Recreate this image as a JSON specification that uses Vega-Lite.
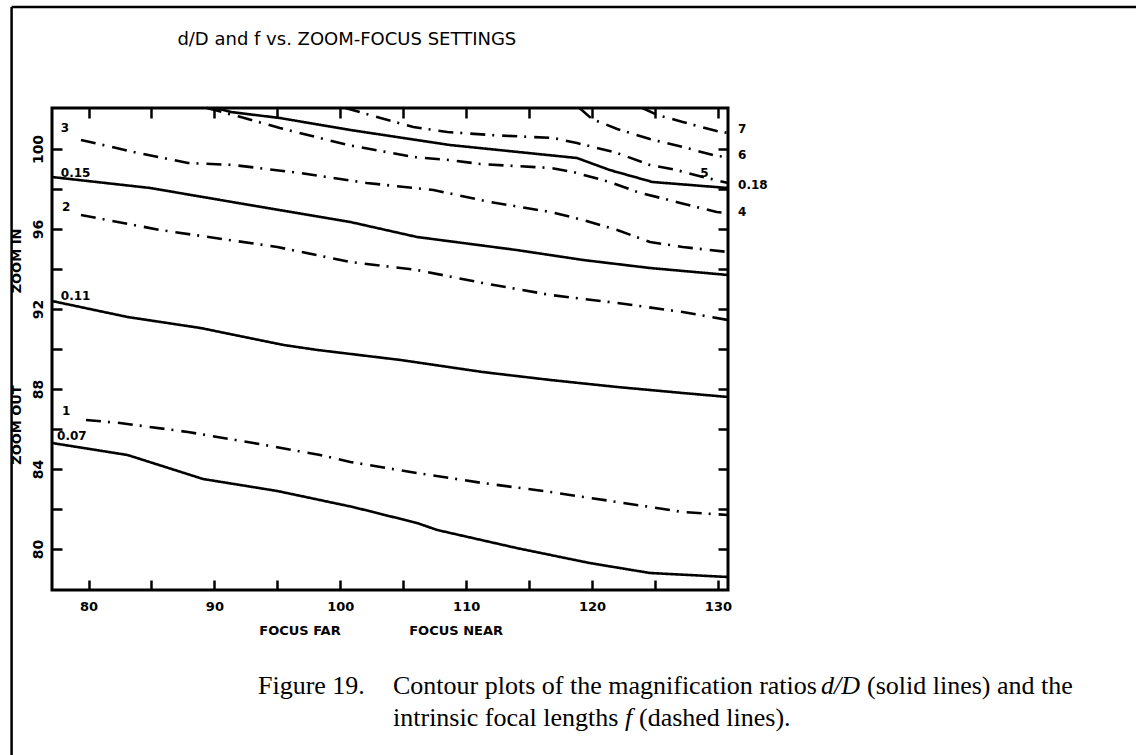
{
  "$schema": "https://vega.github.io/schema/vega-lite/v6.json",
  "width": 676,
  "height": 482,
  "autosize": {"type": "none"},
  "padding": {"left": 52, "top": 108, "right": 408, "bottom": 165},
  "background": "white",
  "config": {
    "view": {"stroke": "black", "strokeWidth": 3},
    "axis": {"grid": false, "domain": false, "title": null, "tickColor": "black", "tickWidth": 2.5, "labelColor": "black", "labelFont": "DejaVu Sans", "labelFontWeight": "bold", "labelFontSize": 13, "labelFlush": false, "labelOverlap": false}
  },
  "datasets": {
    "contours": [
      {"level": "0.07", "quantity": "d/D", "focus": 77.1, "zoom": 85.3},
      {"level": "0.07", "quantity": "d/D", "focus": 83.1, "zoom": 84.7},
      {"level": "0.07", "quantity": "d/D", "focus": 89.1, "zoom": 83.5},
      {"level": "0.07", "quantity": "d/D", "focus": 95.0, "zoom": 82.9},
      {"level": "0.07", "quantity": "d/D", "focus": 101.0, "zoom": 82.1},
      {"level": "0.07", "quantity": "d/D", "focus": 106.1, "zoom": 81.3},
      {"level": "0.07", "quantity": "d/D", "focus": 107.7, "zoom": 80.95},
      {"level": "0.07", "quantity": "d/D", "focus": 114.0, "zoom": 80.05},
      {"level": "0.07", "quantity": "d/D", "focus": 119.8, "zoom": 79.3},
      {"level": "0.07", "quantity": "d/D", "focus": 124.6, "zoom": 78.8},
      {"level": "0.07", "quantity": "d/D", "focus": 130.8, "zoom": 78.6},
      {"level": "1", "quantity": "f", "focus": 79.8, "zoom": 86.45},
      {"level": "1", "quantity": "f", "focus": 82.5, "zoom": 86.3},
      {"level": "1", "quantity": "f", "focus": 87.9, "zoom": 85.85},
      {"level": "1", "quantity": "f", "focus": 93.1, "zoom": 85.3},
      {"level": "1", "quantity": "f", "focus": 98.4, "zoom": 84.7},
      {"level": "1", "quantity": "f", "focus": 100.8, "zoom": 84.35},
      {"level": "1", "quantity": "f", "focus": 106.1, "zoom": 83.8},
      {"level": "1", "quantity": "f", "focus": 111.3, "zoom": 83.3},
      {"level": "1", "quantity": "f", "focus": 116.7, "zoom": 82.85},
      {"level": "1", "quantity": "f", "focus": 122.0, "zoom": 82.35},
      {"level": "1", "quantity": "f", "focus": 127.2, "zoom": 81.85},
      {"level": "1", "quantity": "f", "focus": 130.8, "zoom": 81.7},
      {"level": "0.11", "quantity": "d/D", "focus": 77.1, "zoom": 92.4},
      {"level": "0.11", "quantity": "d/D", "focus": 83.1, "zoom": 91.6},
      {"level": "0.11", "quantity": "d/D", "focus": 88.9, "zoom": 91.05},
      {"level": "0.11", "quantity": "d/D", "focus": 95.5, "zoom": 90.2},
      {"level": "0.11", "quantity": "d/D", "focus": 98.2, "zoom": 89.95},
      {"level": "0.11", "quantity": "d/D", "focus": 104.8, "zoom": 89.45},
      {"level": "0.11", "quantity": "d/D", "focus": 111.3, "zoom": 88.85},
      {"level": "0.11", "quantity": "d/D", "focus": 116.7, "zoom": 88.45},
      {"level": "0.11", "quantity": "d/D", "focus": 122.0, "zoom": 88.1},
      {"level": "0.11", "quantity": "d/D", "focus": 127.2, "zoom": 87.8},
      {"level": "0.11", "quantity": "d/D", "focus": 130.8, "zoom": 87.6},
      {"level": "2", "quantity": "f", "focus": 79.4, "zoom": 96.7},
      {"level": "2", "quantity": "f", "focus": 85.7, "zoom": 95.95},
      {"level": "2", "quantity": "f", "focus": 95.0, "zoom": 95.1},
      {"level": "2", "quantity": "f", "focus": 100.8, "zoom": 94.35},
      {"level": "2", "quantity": "f", "focus": 106.1, "zoom": 93.95},
      {"level": "2", "quantity": "f", "focus": 111.3, "zoom": 93.3},
      {"level": "2", "quantity": "f", "focus": 116.7, "zoom": 92.7},
      {"level": "2", "quantity": "f", "focus": 122.0, "zoom": 92.3},
      {"level": "2", "quantity": "f", "focus": 127.2, "zoom": 91.85},
      {"level": "2", "quantity": "f", "focus": 130.8, "zoom": 91.45},
      {"level": "0.15", "quantity": "d/D", "focus": 77.1, "zoom": 98.6},
      {"level": "0.15", "quantity": "d/D", "focus": 84.9, "zoom": 98.05},
      {"level": "0.15", "quantity": "d/D", "focus": 94.2, "zoom": 97.05},
      {"level": "0.15", "quantity": "d/D", "focus": 100.8, "zoom": 96.35},
      {"level": "0.15", "quantity": "d/D", "focus": 106.1, "zoom": 95.6},
      {"level": "0.15", "quantity": "d/D", "focus": 114.0, "zoom": 94.95},
      {"level": "0.15", "quantity": "d/D", "focus": 119.3, "zoom": 94.45},
      {"level": "0.15", "quantity": "d/D", "focus": 124.6, "zoom": 94.05},
      {"level": "0.15", "quantity": "d/D", "focus": 130.8, "zoom": 93.7},
      {"level": "3", "quantity": "f", "focus": 79.4, "zoom": 100.45},
      {"level": "3", "quantity": "f", "focus": 83.6, "zoom": 99.85},
      {"level": "3", "quantity": "f", "focus": 87.9, "zoom": 99.3},
      {"level": "3", "quantity": "f", "focus": 91.5, "zoom": 99.2},
      {"level": "3", "quantity": "f", "focus": 96.8, "zoom": 98.8},
      {"level": "3", "quantity": "f", "focus": 102.1, "zoom": 98.3},
      {"level": "3", "quantity": "f", "focus": 107.4, "zoom": 97.95},
      {"level": "3", "quantity": "f", "focus": 111.9, "zoom": 97.35},
      {"level": "3", "quantity": "f", "focus": 116.7, "zoom": 96.85},
      {"level": "3", "quantity": "f", "focus": 119.3, "zoom": 96.45},
      {"level": "3", "quantity": "f", "focus": 122.0, "zoom": 95.95},
      {"level": "3", "quantity": "f", "focus": 124.6, "zoom": 95.35},
      {"level": "3", "quantity": "f", "focus": 127.2, "zoom": 95.1},
      {"level": "3", "quantity": "f", "focus": 130.8, "zoom": 94.85},
      {"level": "0.18", "quantity": "d/D", "focus": 90.1, "zoom": 102.05},
      {"level": "0.18", "quantity": "d/D", "focus": 91.3, "zoom": 101.85},
      {"level": "0.18", "quantity": "d/D", "focus": 95.2, "zoom": 101.55},
      {"level": "0.18", "quantity": "d/D", "focus": 100.8, "zoom": 100.95},
      {"level": "0.18", "quantity": "d/D", "focus": 108.7, "zoom": 100.2},
      {"level": "0.18", "quantity": "d/D", "focus": 118.8, "zoom": 99.55},
      {"level": "0.18", "quantity": "d/D", "focus": 121.4, "zoom": 98.95},
      {"level": "0.18", "quantity": "d/D", "focus": 124.8, "zoom": 98.35},
      {"level": "0.18", "quantity": "d/D", "focus": 130.8, "zoom": 98.05},
      {"level": "4", "quantity": "f", "focus": 89.4, "zoom": 102.05},
      {"level": "4", "quantity": "f", "focus": 92.1, "zoom": 101.6},
      {"level": "4", "quantity": "f", "focus": 95.2, "zoom": 101.05},
      {"level": "4", "quantity": "f", "focus": 100.6, "zoom": 100.2},
      {"level": "4", "quantity": "f", "focus": 105.8, "zoom": 99.6},
      {"level": "4", "quantity": "f", "focus": 108.7, "zoom": 99.45},
      {"level": "4", "quantity": "f", "focus": 111.1, "zoom": 99.25},
      {"level": "4", "quantity": "f", "focus": 116.7, "zoom": 99.05},
      {"level": "4", "quantity": "f", "focus": 118.5, "zoom": 98.85},
      {"level": "4", "quantity": "f", "focus": 121.4, "zoom": 98.35},
      {"level": "4", "quantity": "f", "focus": 123.6, "zoom": 97.85},
      {"level": "4", "quantity": "f", "focus": 126.7, "zoom": 97.35},
      {"level": "4", "quantity": "f", "focus": 129.9, "zoom": 96.85},
      {"level": "4", "quantity": "f", "focus": 130.8, "zoom": 96.8},
      {"level": "5", "quantity": "f", "focus": 100.4, "zoom": 102.05},
      {"level": "5", "quantity": "f", "focus": 103.2, "zoom": 101.55},
      {"level": "5", "quantity": "f", "focus": 105.8, "zoom": 101.1},
      {"level": "5", "quantity": "f", "focus": 108.5, "zoom": 100.85},
      {"level": "5", "quantity": "f", "focus": 111.9, "zoom": 100.7},
      {"level": "5", "quantity": "f", "focus": 116.9, "zoom": 100.55},
      {"level": "5", "quantity": "f", "focus": 118.8, "zoom": 100.3},
      {"level": "5", "quantity": "f", "focus": 122.0, "zoom": 99.8},
      {"level": "5", "quantity": "f", "focus": 124.6, "zoom": 99.2},
      {"level": "5", "quantity": "f", "focus": 126.7, "zoom": 98.95},
      {"level": "5", "quantity": "f", "focus": 128.8, "zoom": 98.6},
      {"level": "5", "quantity": "f", "focus": 130.8, "zoom": 98.3},
      {"level": "6", "quantity": "f", "focus": 119.0, "zoom": 102.05},
      {"level": "6", "quantity": "f", "focus": 120.0, "zoom": 101.5},
      {"level": "6", "quantity": "f", "focus": 122.0, "zoom": 101.0},
      {"level": "6", "quantity": "f", "focus": 124.6, "zoom": 100.5},
      {"level": "6", "quantity": "f", "focus": 127.2, "zoom": 100.1},
      {"level": "6", "quantity": "f", "focus": 129.9, "zoom": 99.65},
      {"level": "6", "quantity": "f", "focus": 130.8, "zoom": 99.6},
      {"level": "7", "quantity": "f", "focus": 124.0, "zoom": 102.05},
      {"level": "7", "quantity": "f", "focus": 125.2, "zoom": 101.7},
      {"level": "7", "quantity": "f", "focus": 127.2, "zoom": 101.35},
      {"level": "7", "quantity": "f", "focus": 129.9, "zoom": 100.9},
      {"level": "7", "quantity": "f", "focus": 130.8, "zoom": 100.8}
    ],
    "contourLabels": [
      {"text": "3", "focus": 77.8, "zoom": 101.05},
      {"text": "0.15", "focus": 77.8, "zoom": 98.8},
      {"text": "2", "focus": 77.9, "zoom": 97.1},
      {"text": "0.11", "focus": 77.8, "zoom": 92.65},
      {"text": "1", "focus": 77.9, "zoom": 86.9},
      {"text": "0.07", "focus": 77.5, "zoom": 85.65},
      {"text": "5", "focus": 128.6, "zoom": 98.8},
      {"text": "7", "focus": 131.6, "zoom": 101.0},
      {"text": "6", "focus": 131.6, "zoom": 99.7},
      {"text": "0.18", "focus": 131.6, "zoom": 98.2},
      {"text": "4", "focus": 131.6, "zoom": 96.85}
    ]
  },
  "layer": [
    {
      "data": {"name": "contours"},
      "mark": {"type": "line", "color": "black", "strokeWidth": 2.6},
      "encoding": {
        "x": {"field": "focus", "type": "quantitative", "scale": {"domain": [77.1, 130.8], "nice": false, "zero": false},
          "axis": {"orient": "bottom", "values": [80, 85, 90, 95, 100, 105, 110, 115, 120, 125, 130], "labelExpr": "datum.value % 10 === 0 ? datum.label : ''", "tickSize": -10, "labelPadding": 20}},
        "y": {"field": "zoom", "type": "quantitative", "scale": {"domain": [77.95, 102.05], "nice": false, "zero": false},
          "axis": {"orient": "left", "values": [80, 82, 84, 86, 88, 90, 92, 94, 96, 98, 100], "labelExpr": "datum.value % 4 === 0 ? datum.label : ''", "labelAngle": 270, "labelAlign": "center", "labelBaseline": "bottom", "labelFontSize": 14, "tickSize": -10, "labelPadding": 17}},
        "detail": {"field": "level", "type": "nominal"},
        "strokeDash": {"field": "quantity", "type": "nominal", "scale": {"domain": ["d/D", "f"], "range": [[1, 0], [15, 7, 2, 8]]}, "legend": null}
      }
    },
    {
      "data": {"name": "contourLabels"},
      "mark": {"type": "text", "align": "left", "baseline": "middle", "font": "DejaVu Sans", "fontWeight": "bold", "fontSize": 12, "color": "black"},
      "encoding": {
        "x": {"field": "focus", "type": "quantitative", "scale": {"domain": [77.1, 130.8], "nice": false, "zero": false},
          "axis": {"orient": "top", "values": [80, 85, 90, 95, 100, 105, 110, 115, 120, 125, 130], "labels": false, "tickSize": -10}},
        "y": {"field": "zoom", "type": "quantitative", "scale": {"domain": [77.95, 102.05], "nice": false, "zero": false},
          "axis": {"orient": "right", "values": [80, 82, 84, 86, 88, 90, 92, 94, 96, 98, 100], "labels": false, "tickSize": -10}},
        "text": {"field": "text", "type": "nominal"}
      }
    },
    {
      "data": {"values": [{"text": "d/D and f vs. ZOOM-FOCUS SETTINGS", "focus": 87.06, "zoom": 105.45}]},
      "mark": {"type": "text", "align": "left", "baseline": "middle", "font": "DejaVu Sans", "fontSize": 18, "color": "black"},
      "encoding": {
        "x": {"field": "focus", "type": "quantitative", "scale": {"domain": [77.1, 130.8], "nice": false, "zero": false}, "axis": null},
        "y": {"field": "zoom", "type": "quantitative", "scale": {"domain": [77.95, 102.05], "nice": false, "zero": false}, "axis": null},
        "text": {"field": "text", "type": "nominal"}
      }
    },
    {
      "data": {"values": [{"text": "FOCUS FAR", "focus": 96.8, "zoom": 75.9}, {"text": "FOCUS NEAR", "focus": 109.2, "zoom": 75.9}]},
      "mark": {"type": "text", "align": "center", "baseline": "middle", "font": "DejaVu Sans", "fontWeight": "bold", "fontSize": 13, "color": "black"},
      "encoding": {
        "x": {"field": "focus", "type": "quantitative", "scale": {"domain": [77.1, 130.8], "nice": false, "zero": false}, "axis": null},
        "y": {"field": "zoom", "type": "quantitative", "scale": {"domain": [77.95, 102.05], "nice": false, "zero": false}, "axis": null},
        "text": {"field": "text", "type": "nominal"}
      }
    },
    {
      "data": {"values": [{"text": "ZOOM IN", "focus": 74.3, "zoom": 94.4}, {"text": "ZOOM OUT", "focus": 74.3, "zoom": 86.2}]},
      "mark": {"type": "text", "align": "center", "baseline": "middle", "angle": 270, "font": "DejaVu Sans", "fontWeight": "bold", "fontSize": 13, "color": "black"},
      "encoding": {
        "x": {"field": "focus", "type": "quantitative", "scale": {"domain": [77.1, 130.8], "nice": false, "zero": false}, "axis": null},
        "y": {"field": "zoom", "type": "quantitative", "scale": {"domain": [77.95, 102.05], "nice": false, "zero": false}, "axis": null},
        "text": {"field": "text", "type": "nominal"}
      }
    },
    {
      "data": {"values": [
        {"text": "Figure 19.", "focus": 93.46, "zoom": 73.15},
        {"text": "Contour plots of the magnification ratios", "focus": 104.19, "zoom": 73.15},
        {"text": "(solid lines) and the", "focus": 141.84, "zoom": 73.15},
        {"text": "intrinsic focal lengths", "focus": 104.19, "zoom": 71.55},
        {"text": "(dashed lines).", "focus": 123.73, "zoom": 71.55}
      ]},
      "mark": {"type": "text", "align": "left", "baseline": "middle", "font": "Liberation Serif", "fontSize": 26, "color": "black"},
      "encoding": {
        "x": {"field": "focus", "type": "quantitative", "scale": {"domain": [77.1, 130.8], "nice": false, "zero": false}, "axis": null},
        "y": {"field": "zoom", "type": "quantitative", "scale": {"domain": [77.95, 102.05], "nice": false, "zero": false}, "axis": null},
        "text": {"field": "text", "type": "nominal"}
      }
    },
    {
      "data": {"values": [
        {"text": "d/D", "focus": 138.19, "zoom": 73.15},
        {"text": "f", "focus": 122.62, "zoom": 71.55}
      ]},
      "mark": {"type": "text", "align": "left", "baseline": "middle", "font": "Liberation Serif", "fontStyle": "italic", "fontSize": 26, "color": "black"},
      "encoding": {
        "x": {"field": "focus", "type": "quantitative", "scale": {"domain": [77.1, 130.8], "nice": false, "zero": false}, "axis": null},
        "y": {"field": "zoom", "type": "quantitative", "scale": {"domain": [77.95, 102.05], "nice": false, "zero": false}, "axis": null},
        "text": {"field": "text", "type": "nominal"}
      }
    },
    {
      "data": {"values": [
        {"focus": 73.89, "zoom": 107.1, "focus2": 73.89, "zoom2": 69.0},
        {"focus": 73.89, "zoom": 107.1, "focus2": 164.0, "zoom2": 107.1}
      ]},
      "mark": {"type": "rule", "color": "black", "strokeWidth": 2.5},
      "encoding": {
        "x": {"field": "focus", "type": "quantitative", "scale": {"domain": [77.1, 130.8], "nice": false, "zero": false}, "axis": null},
        "y": {"field": "zoom", "type": "quantitative", "scale": {"domain": [77.95, 102.05], "nice": false, "zero": false}, "axis": null},
        "x2": {"field": "focus2"},
        "y2": {"field": "zoom2"}
      }
    }
  ],
  "resolve": {"axis": {"x": "independent", "y": "independent"}}
}
